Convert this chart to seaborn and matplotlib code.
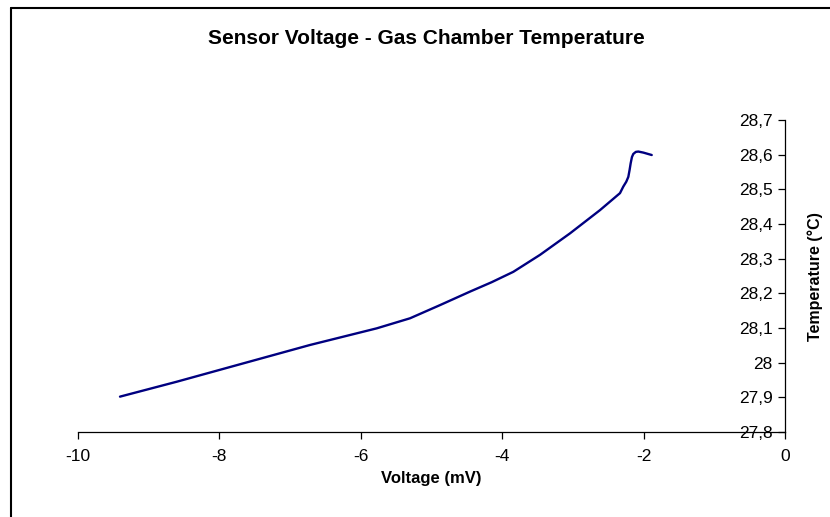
import matplotlib
matplotlib.use("Agg")
import matplotlib.pyplot as plt
import seaborn as sns
import pandas as pd
from matplotlib.lines import Line2D
from matplotlib.ticker import FuncFormatter

voltage = [-9.406, -8.604, -7.662, -6.719, -5.775, -5.304, -4.880, -4.455, -4.15, -3.843,
           -3.465, -3.041, -2.617, -2.334, -2.287, -2.245, -2.216, -2.198, -2.183, -2.165,
           -2.146, -2.11, -2.075, -2.004, -1.885]
temperature = [27.902, 27.945, 27.998, 28.051, 28.099, 28.128, 28.166, 28.205, 28.232, 28.262,
               28.311, 28.373, 28.440, 28.489, 28.508, 28.522, 28.536, 28.556, 28.575, 28.593,
               28.602, 28.608, 28.609, 28.606, 28.599]
x_ticks = [-10, -8, -6, -4, -2, 0]
y_ticks = [27.8, 27.9, 28.0, 28.1, 28.2, 28.3, 28.4, 28.5, 28.6, 28.7]

df = pd.DataFrame({"Voltage": voltage, "Temperature": temperature})

sns.set_style("white")
plt.rcParams["font.family"] = ["Liberation Sans", "DejaVu Sans"]
plt.rcParams["text.color"] = "black"
plt.rcParams["axes.labelcolor"] = "black"
plt.rcParams["xtick.color"] = "black"
plt.rcParams["ytick.color"] = "black"

fig = plt.figure(figsize=(8.3, 5.17), dpi=100)
ax = fig.add_axes([78 / 830, 1 - 432 / 517, (785 - 78) / 830, (432 - 120) / 517])

sns.lineplot(data=df, x="Voltage", y="Temperature", sort=False, estimator=None,
             color="#000080", linewidth=1.7, ax=ax)
ax.lines[0].set_solid_joinstyle("round")

ax.set_xlim(-10, 0)
ax.set_ylim(27.8, 28.7)
ax.set_xticks(x_ticks)
ax.set_yticks(y_ticks)

def comma_fmt(v, pos):
    s = f"{v:.1f}".rstrip("0").rstrip(".")
    return s.replace(".", ",")

ax.yaxis.set_major_formatter(FuncFormatter(comma_fmt))
ax.xaxis.set_major_formatter(FuncFormatter(lambda v, p: f"{int(round(v))}"))

for s in ["top", "right"]:
    ax.spines[s].set_visible(False)
ax.spines["left"].set_position(("data", 0))
ax.spines["left"].set_color("black")
ax.spines["bottom"].set_color("black")
ax.spines["left"].set_linewidth(0.9)
ax.spines["bottom"].set_linewidth(0.9)

ax.tick_params(axis="both", direction="out", length=5, width=0.9, color="black",
               labelcolor="black", labelsize=12.5, pad=4, bottom=True, left=True)
ax.tick_params(axis="x", pad=7)

ax.set_xlabel("Voltage (mV)", fontsize=12, fontweight="bold", labelpad=5)
ax.set_ylabel("")
fig.text(815 / 830, 1 - 277 / 517, "Temperature (°C)", rotation=90, fontsize=11.5,
         fontweight="bold", ha="center", va="center")
fig.text(426 / 830, 1 - 38 / 517, "Sensor Voltage - Gas Chamber Temperature",
         fontsize=15, fontweight="bold", ha="center", va="center")

# chart-area border (top and left edges visible)
fig.add_artist(Line2D([11 / 830, 11 / 830], [0, 1 - 8 / 517], transform=fig.transFigure,
                      color="black", linewidth=1.5))
fig.add_artist(Line2D([11 / 830, 1], [1 - 8 / 517, 1 - 8 / 517], transform=fig.transFigure,
                      color="black", linewidth=1.5))

fig.savefig("out.png", dpi=100)
